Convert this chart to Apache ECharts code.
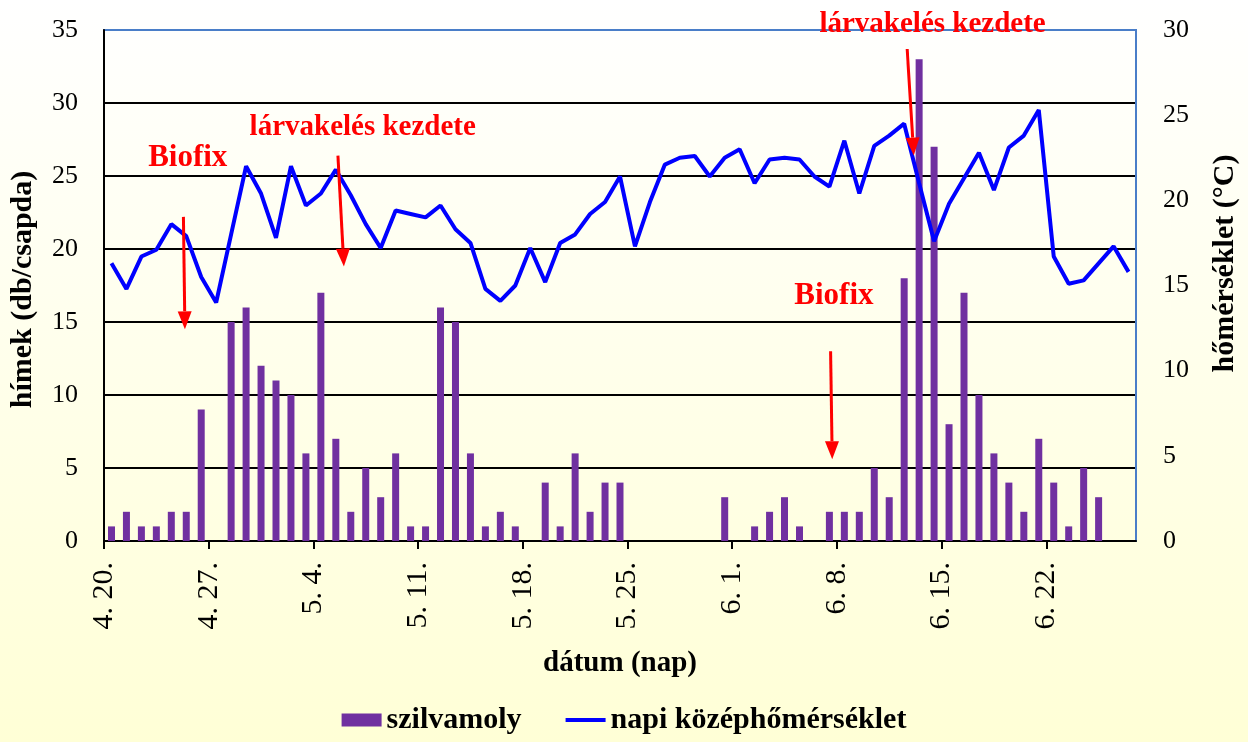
<!DOCTYPE html>
<html>
<head>
<meta charset="utf-8">
<script src="https://cdn.jsdelivr.net/npm/echarts@6/dist/echarts.min.js"></script>
<style>
html,body{margin:0;padding:0;}
#chart{width:1248px;height:742px;}
</style>
</head>
<body>
<div id="chart"></div>
<script>
// ---- data ----
const categories = [
  '4.20','4.21','4.22','4.23','4.24','4.25','4.26','4.27','4.28','4.29','4.30',
  '5.1','5.2','5.3','5.4','5.5','5.6','5.7','5.8','5.9','5.10','5.11','5.12','5.13','5.14','5.15',
  '5.16','5.17','5.18','5.19','5.20','5.21','5.22','5.23','5.24','5.25','5.26','5.27','5.28','5.29','5.30','5.31',
  '6.1','6.2','6.3','6.4','6.5','6.6','6.7','6.8','6.9','6.10','6.11','6.12','6.13','6.14','6.15',
  '6.16','6.17','6.18','6.19','6.20','6.21','6.22','6.23','6.24','6.25','6.26','6.27'
];
const tickLabels = ['4. 20.','4. 27.','5. 4.','5. 11.','5. 18.','5. 25.','6. 1.','6. 8.','6. 15.','6. 22.'];
const mothCounts = [
  1,2,1,1,2,2,9,0,15,16,12,11,10,6,17,7,2,5,3,6,1,1,16,
  15,6,1,2,1,0,4,1,6,2,4,4,
  0,0,0,0,0,0,
  3,0,1,2,3,
  1,0,2,2,2,5,3,18,33,27,8,17,10,6,4,2,7,4,1,5,3,0,0
];
const meanTemp = [
  16.3,14.8,16.7,17.1,18.6,17.9,15.5,14.0,18.0,22.0,20.4,17.8,22.0,19.7,20.4,21.8,20.3,18.6,17.2,19.4,19.2,19.0,19.7,
  18.3,17.5,14.8,14.1,15.0,17.2,15.2,17.5,18.0,19.2,19.9,21.4,17.3,19.9,22.1,22.5,22.6,21.4,22.5,23.0,21.0,22.4,22.5,
  22.4,21.4,20.8,23.5,20.4,23.2,23.8,24.5,21.0,17.6,19.8,21.3,22.8,20.6,23.1,23.8,25.3,16.7,15.1,15.3,16.3,17.3,15.8
];
const seriesNames = ['szilvamoly','napi középhőmérséklet'];
// annotations in data units: x = day offset from 4.20 (left edge), y = left-axis value
const annotationTexts = [
  {text:'Biofix', x:5.6, y:26.2, size:31},
  {text:'lárvakelés kezdete', x:17.3, y:28.3, size:29},
  {text:'lárvakelés kezdete', x:55.4, y:35.4, size:29},
  {text:'Biofix', x:48.8, y:16.8, size:31}
];
const annotationArrows = [
  {from:[5.31,22.2], to:[5.41,14.5]},
  {from:[15.64,26.4], to:[16.04,18.8]},
  {from:[53.7,33.7], to:[54.14,26.4]},
  {from:[48.58,13.0], to:[48.69,5.6]}
];

const FONT = 'Liberation Serif';
const BLUE_BORDER = '#4A7EC8';
const chart = echarts.init(document.getElementById('chart'));
const option = {
  backgroundColor: {type:'linear',x:0,y:0,x2:0,y2:1,colorStops:[{offset:0,color:'#FFFFFF'},{offset:1,color:'#FFFFD6'}]},
  animation:false,
  textStyle:{fontFamily:FONT},
  grid:{left:103,right:112,top:30,bottom:201,show:true,borderColor:BLUE_BORDER,borderWidth:2,backgroundColor:'transparent'},
  legend:{
    data:[{name:seriesNames[0],icon:'rect'},{name:seriesNames[1],icon:'path://M0,0 H40 V4 H0 Z'}],
    bottom:2, left:'center', itemWidth:40, itemHeight:13, itemGap:44, symbolKeepAspect:true,
    textStyle:{fontFamily:FONT,fontSize:30,fontWeight:'bold',color:'#000'}
  },
  xAxis:[
    {type:'category',data:categories,boundaryGap:true,show:false},
    {type:'value',min:0,max:categories.length,interval:7,position:'bottom',
     axisLine:{show:true,lineStyle:{color:'#000',width:2}},
     axisTick:{show:true,length:8,lineStyle:{color:'#000',width:2}},
     splitLine:{show:false},
     axisLabel:{rotate:90,margin:21,fontFamily:FONT,fontSize:30,color:'#000',showMaxLabel:false,
       formatter:function(v){const i=v/7; return Number.isInteger(i)&&tickLabels[i]?tickLabels[i]:'';}},
     name:'dátum (nap)',nameLocation:'middle',nameGap:108,
     nameTextStyle:{fontFamily:FONT,fontSize:29,fontWeight:'bold',color:'#000'}}
  ],
  yAxis:[
    {type:'value',min:0,max:35,interval:5,position:'left',
     axisLine:{show:true,lineStyle:{color:'#000',width:2}},
     axisTick:{show:false},
     splitLine:{show:true,showMaxLine:false,lineStyle:{color:'#000',width:2}},
     axisLabel:{fontFamily:FONT,fontSize:26,color:'#000',margin:26},
     name:'hímek (db/csapda)',nameLocation:'middle',nameGap:66,nameRotate:90,
     nameTextStyle:{fontFamily:FONT,fontSize:30,fontWeight:'bold',color:'#000',padding:[0,8,0,0]}},
    {type:'value',min:0,max:30,interval:5,position:'right',
     axisLine:{show:true,lineStyle:{color:BLUE_BORDER,width:2}},
     axisTick:{show:false},
     splitLine:{show:false},
     axisLabel:{fontFamily:FONT,fontSize:26,color:'#000',margin:27},
     name:'hőmérséklet (°C)',nameLocation:'middle',nameGap:74,nameRotate:90,
     nameTextStyle:{fontFamily:FONT,fontSize:30,fontWeight:'bold',color:'#000',padding:[0,0,0,44]}}
  ],
  series:[
    {name:seriesNames[0],type:'bar',xAxisIndex:0,yAxisIndex:0,data:mothCounts,barWidth:7,
     itemStyle:{color:'#7030A0'}},
    {name:seriesNames[1],type:'line',xAxisIndex:0,yAxisIndex:1,data:meanTemp,symbol:'none',
     lineStyle:{color:'#0000FF',width:4},itemStyle:{color:'#0000FF'},z:5}
  ]
};
chart.setOption(option);

function px(pt){return chart.convertToPixel({xAxisIndex:1,yAxisIndex:0},pt);}
const graphics=[];
annotationTexts.forEach(a=>{
  const p=px([a.x,a.y]);
  graphics.push({type:'text',x:p[0],y:p[1],z:100,
    style:{text:a.text,fill:'#FF0000',font:'bold '+a.size+'px "'+FONT+'"',textAlign:'center',textVerticalAlign:'middle'}});
});
annotationArrows.forEach(a=>{
  const p1=px(a.from), p2=px(a.to);
  const dx=p2[0]-p1[0], dy=p2[1]-p1[1], len=Math.hypot(dx,dy);
  const ux=dx/len, uy=dy/len, nx=-uy, ny=ux;
  const hl=18, hw=7;
  const bx=p2[0]-ux*hl, by=p2[1]-uy*hl;
  graphics.push({type:'line',z:100,shape:{x1:p1[0],y1:p1[1],x2:bx,y2:by},style:{stroke:'#FF0000',lineWidth:3}});
  graphics.push({type:'polygon',z:100,shape:{points:[[p2[0],p2[1]],[bx+nx*hw,by+ny*hw],[bx-nx*hw,by-ny*hw]]},style:{fill:'#FF0000'}});
});
chart.setOption({graphic:graphics});
</script>
</body>
</html>
